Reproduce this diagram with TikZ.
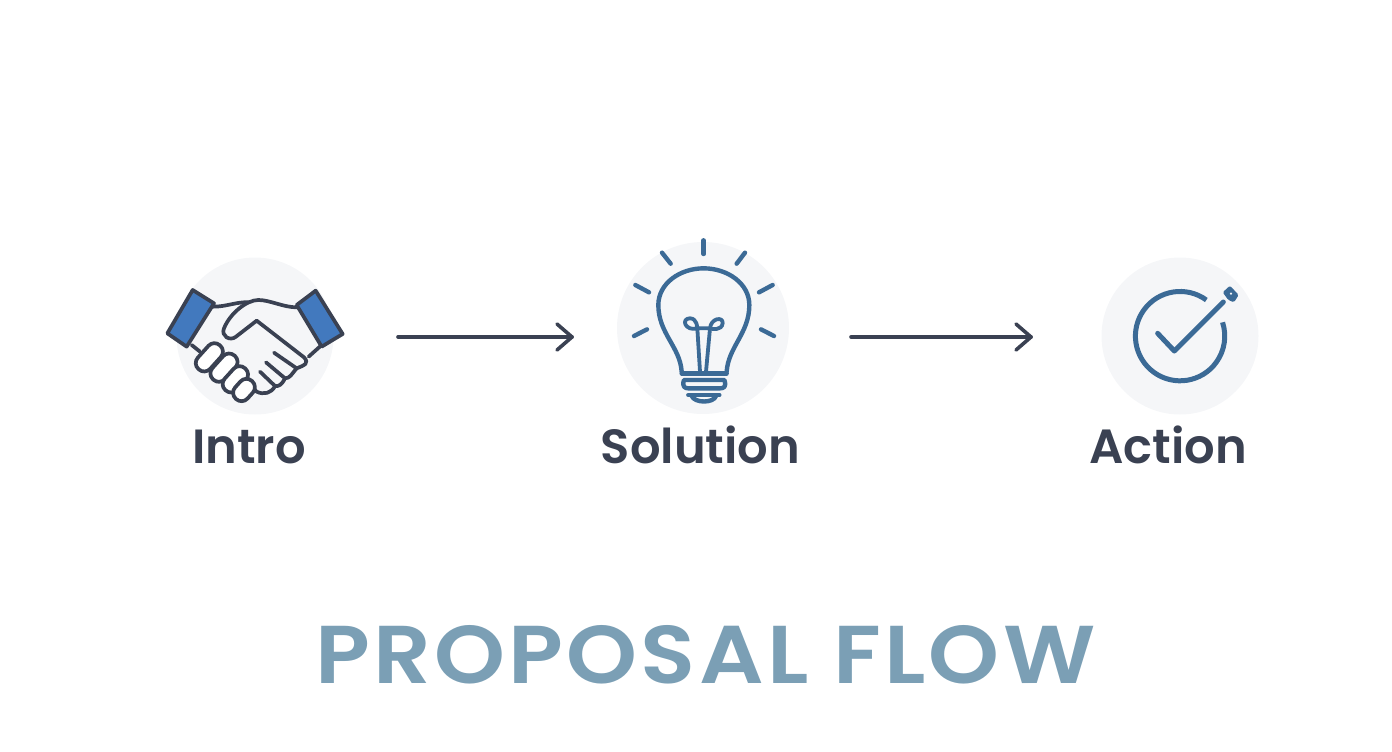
\documentclass[tikz,border=0pt]{standalone}
\usepackage{fontspec}
\setmainfont{Poppins SemiBold}
\definecolor{inkdark}{HTML}{3A4152}
\definecolor{iconblue}{HTML}{3B6A96}
\definecolor{cuffblue}{HTML}{4279BE}
\definecolor{discgray}{HTML}{F5F6F8}
\definecolor{titleblue}{HTML}{7B9FB5}
\tikzset{
  disc/.style={circle,fill=discgray,minimum size=#1},
  caption/.style={font=\fontsize{48}{50}\selectfont,text=inkdark,anchor=base},
  flowarrow/.style={line width=3.6pt,draw=inkdark,line cap=round,line join=round},
  handline/.style={line width=3.7pt,draw=inkdark,line cap=round,line join=round},
  iconline/.style={line width=4.4pt,draw=iconblue,line cap=round,line join=round},
}
\begin{document}
\begin{tikzpicture}[x=1pt,y=-1pt]
    \useasboundingbox (0,0) rectangle (1392,752);
    \node[disc=157pt] (introdisc) at (255,336) {};
    \node[disc=172pt] (solutiondisc) at (703,328) {};
    \node[disc=157pt] (actiondisc) at (1180,336) {};
    \node[caption] (intro) at (249,463) {Intro};
    \node[caption] (solution) at (700.5,463) {Solution};
    \node[caption] (action) at (1168,463) {Action};
    \node[font=\fontsize{82}{90}\selectfont\addfontfeature{FakeStretch=1.1,LetterSpace=4},text=titleblue,anchor=base] (title) at (705.5,683) {PROPOSAL FLOW};
    % arrows
    \coordinate (a1) at (398,337); \coordinate (a2) at (572,337);
    \coordinate (b1) at (851,337); \coordinate (b2) at (1031,337);
    \foreach \s/\e in {a1/a2,b1/b2} {
      \draw[flowarrow] (\s) -- (\e);
      \draw[flowarrow] ([shift={(-15,-13)}]\e) -- (\e) -- ([shift={(-15,13)}]\e);
    }
    % handshake
    \begin{scope}[shift={(150,250)},x=1pt/3,y=-1pt/3]
      \draw[handline] (190,170) .. controls (230,170) and (260,155) .. (295,157);
      \draw[handline] (440,172) .. controls (400,172) and (360,150) .. (325,150)
        .. controls (290,150) and (240,190) .. (222,235)
        .. controls (212,258) and (240,275) .. (258,260) -- (320,212) -- (462,322)
        .. controls (478,340) and (465,345) .. (440,355);
      \draw[handline] (515,285) -- (476,320);
      \draw[handline] (372,308) -- (440,355) .. controls (425,372) and (420,385) .. (405,385);
      \draw[handline] (348,337) -- (405,385) .. controls (395,405) and (385,410) .. (375,408);
      \draw[handline] (330,365) -- (375,408) .. controls (365,430) and (340,435) .. (320,425) -- (305,410);
      \draw[handline] (125,285) -- (150,305);
      \foreach \cx/\cy/\hl in {178/322/48,222/353/48,256/388/44,282/420/36}
        \draw[handline,fill=white,rounded corners=8pt,rotate around={-42:(\cx,\cy)}]
          (\cx-25,\cy-\hl) rectangle (\cx+25,\cy+\hl);
      \draw[handline,fill=cuffblue] (128,120) -- (192,160) -- (110,290) -- (52,250) -- cycle;
      \draw[handline,fill=cuffblue] (497,122) -- (578,252) -- (515,290) -- (440,165) -- cycle;
    \end{scope}
    % bulb
    \begin{scope}[shift={(610,230)},x=1pt/3,y=-1pt/3]
      \foreach \xa/\ya/\xb/\yb in {281/31/281/72,156/68/182/101,405/68/380/101,76/165/117/187,488/165/447/187,72/318/111/298,492/318/453/298}
        \draw[iconline] (\xa,\ya) -- (\xb,\yb);
      \draw[iconline] (215,425) .. controls (210,350) and (145,310) .. (145,225)
        .. controls (145,160) and (210,115) .. (281,115)
        .. controls (352,115) and (418,160) .. (418,225)
        .. controls (418,310) and (355,350) .. (350,425);
      \draw[iconline,line width=3.8pt] (270,425) -- (262,295)
        .. controls (225,305) and (212,265) .. (240,265) .. controls (262,265) and (262,295) .. (262,295) -- (300,295)
        .. controls (302,265) and (340,258) .. (338,280) .. controls (335,303) and (305,297) .. (300,295) -- (288,425);
      \draw[iconline] (215,430) -- (350,430);
      \draw[iconline] (222,450) .. controls (215,470) and (225,475) .. (235,475) -- (330,475)
        .. controls (342,475) and (350,470) .. (343,450) -- cycle;
      \draw[iconline] (235,495) -- (328,495);
      \draw[iconline] (245,498) .. controls (255,520) and (310,520) .. (318,498);
    \end{scope}
    % check
    \begin{scope}[shift={(1090,250)},x=1pt/3,y=-1pt/3]
      \draw[iconline,line width=5pt,line cap=butt] (349,150) arc[start angle=54,end angle=378,radius=134pt/3];
      \draw[iconline,line width=5pt] (203,250) -- (253,303) -- (400,156);
      \fill[iconblue,rounded corners=1.5pt] (398,127) -- (420,107) -- (446,135) -- (432,157) -- (415,150) -- cycle;
      \fill[discgray] (423,131) circle[radius=1.2pt];
    \end{scope}
  \end{tikzpicture}
\end{document}
